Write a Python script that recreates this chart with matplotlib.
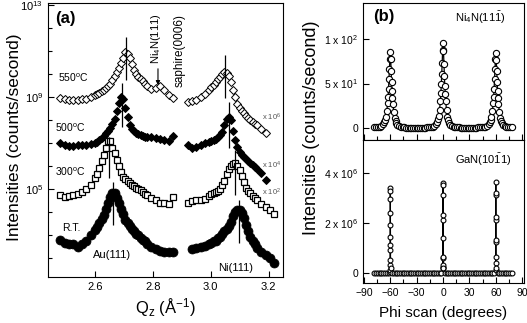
import numpy as np
import matplotlib
matplotlib.use("Agg")
import matplotlib.pyplot as plt
from matplotlib.ticker import FixedLocator, MultipleLocator, NullFormatter

plt.rcParams['font.family'] = ['Liberation Sans', 'DejaVu Sans']
plt.rcParams['mathtext.default'] = 'regular'

# ---- panel (a): scans, log10 of intensity (already offset by x10^n) ----
qz_au = [2.480, 2.495, 2.510, 2.525, 2.540, 2.555, 2.570, 2.585, 2.600,
         2.6075, 2.615, 2.6225, 2.630, 2.6375, 2.645, 2.6525, 2.660, 2.6675, 2.675, 2.6825,
         2.690, 2.6975, 2.705, 2.7125, 2.720, 2.7275, 2.735, 2.7425, 2.750, 2.7575, 2.765,
         2.7725, 2.780,
         2.795, 2.810, 2.825, 2.840, 2.855, 2.870]
qz_ni = [2.920, 2.935, 2.950, 2.965, 2.980, 2.995,
         3.0025, 3.010, 3.0175, 3.025, 3.0325, 3.040, 3.0475, 3.055, 3.0625, 3.070, 3.0775,
         3.085, 3.0925, 3.100, 3.1075, 3.115, 3.1225, 3.130, 3.1375, 3.145, 3.1525, 3.160,
         3.175, 3.190, 3.205, 3.220]

rt_au = [2.78, 2.65, 2.61, 2.57, 2.48, 2.57, 2.74, 2.96, 3.22,
         3.35, 3.52, 3.70, 3.87, 4.13, 4.39, 4.65, 4.83, 4.83, 4.61, 4.39, 4.13, 3.91, 3.65,
         3.52, 3.39, 3.26, 3.17, 3.04, 2.96, 2.87, 2.78, 2.70, 2.61,
         2.48, 2.39, 2.30, 2.22, 2.22, 2.26]
rt_ni = [2.39, 2.43, 2.48, 2.52, 2.61,
         2.65, 2.70, 2.74, 2.83, 2.91, 3.04, 3.17, 3.26, 3.39, 3.57, 3.83, 4.00, 4.09, 4.09,
         3.96, 3.74, 3.43, 3.17, 2.91, 2.70, 2.57, 2.43,
         2.26, 2.09, 1.96, 1.78]
t300_au = [4.74, 4.65, 4.70, 4.74, 4.78, 4.87, 5.00, 5.17, 5.48,
           5.65, 5.91, 6.22, 6.48, 6.78, 7.09, 7.09, 6.78, 6.57, 6.26, 6.00, 5.74, 5.52, 5.43,
           5.35, 5.26, 5.17, 5.13, 5.04, 5.00, 4.96, 4.87, 4.78, 4.74,
           4.61, 4.52, 4.39, 4.39, 4.35, 4.65]
t300_ni = [4.39, 4.48, 4.52, 4.52, 4.57, 4.70,
           4.78, 4.83, 4.87, 4.91, 5.00, 5.17, 5.35, 5.65, 5.87, 6.00, 6.09, 6.13, 6.00, 5.83,
           5.57, 5.30, 5.04, 4.91, 4.83, 4.70, 4.61, 4.52,
           4.35, 4.22, 4.09, 3.91]
t500_au = [7.00, 6.91, 6.87, 6.87, 6.91, 6.91, 6.91, 6.96, 7.00,
           7.04, 7.13, 7.22, 7.30, 7.43, 7.52, 7.65, 7.83, 8.04, 8.39, 8.74, 9.00, 8.91, 8.52,
           8.13, 7.78, 7.61, 7.52, 7.43, 7.39, 7.35, 7.30, 7.26, 7.26,
           7.26, 7.22, 7.17, 7.13, 7.09, 7.30]
t500_ni = [6.91, 6.78, 6.83, 6.91, 7.00, 7.04,
           7.09, 7.13, 7.17, 7.26, 7.35, 7.48, 7.78, 8.04, 8.13, 8.00, 7.52, 7.13, 6.83, 6.61,
           6.48, 6.39, 6.30, 6.22, 6.13, 6.04, 5.96, 5.87,
           5.70, 5.39]
t550_au = [8.96, 8.91, 8.87, 8.87, 8.87, 8.91, 8.91, 9.00, 9.09,
           9.13, 9.17, 9.26, 9.30, 9.39, 9.48, 9.57, 9.74, 9.91, 10.09, 10.26, 10.48, 10.70, 10.96,
           10.87, 10.70, 10.43, 10.17, 10.00, 9.87, 9.78, 9.70, 9.57, 9.48,
           9.35, 9.39, 9.48, 9.30, 9.09, 8.96]
t550_ni = [8.78, 8.83, 8.87, 9.00, 9.13, 9.30,
           9.43, 9.52, 9.65, 9.78, 9.87, 10.00, 10.09, 10.04, 9.91, 9.65, 9.30, 9.00, 8.70, 8.52,
           8.39, 8.30, 8.17, 8.09, 8.00, 7.91, 7.83, 7.78,
           7.61, 7.43]

# peak position markers (qz, log10 low, log10 high)
peak_qz = [2.708, 3.049, 2.694, 3.063, 2.648, 3.083, 2.663, 3.098]
peak_lo = [9.74, 8.96, 7.70, 6.78, 5.48, 4.74, 3.43, 2.65]
peak_hi = [11.61, 10.83, 9.61, 8.78, 7.26, 6.70, 5.30, 4.52]

# ---- panel (b): phi scans ----
phi_ni4n = [-78, -76, -74, -72, -70, -68, -67, -66, -65, -64, -63, -62.5, -62, -61.5, -61, -60.5,
            -60, -59.5, -59, -58.5, -58, -57.5, -57, -56, -55, -54, -53, -52, -50, -48, -46, -44,
            -42, -40, -38, -36, -34, -32, -30, -28, -26, -24, -22, -20, -18, -16, -14, -12, -10,
            -8, -7, -6, -5, -4, -3, -2.5, -2, -1.5, -1, -0.5, 0, 0.5, 1, 1.5, 2, 2.5, 3, 4, 5, 6,
            7, 8, 10, 12, 14, 16, 18, 20, 22, 24, 26, 28, 30, 32, 34, 36, 38, 40, 42, 44, 46, 48,
            50, 52, 53, 54, 55, 56, 57, 57.5, 58, 58.5, 59, 59.5, 60, 60.5, 61, 61.5, 62, 62.5, 63,
            64, 65, 66, 67, 68, 70, 72, 74, 76, 78]
int_ni4n = [1, 1, 1.5, 2, 3, 5, 7, 9, 13, 19, 28, 35, 44, 55, 66, 78,
            85, 77, 64, 52, 42, 34, 27, 18, 12, 8, 6, 4, 3, 2, 1, 1,
            0.5, 0.5, 0.5, 0.5, 0.5, 0.5, 0.5, 0.5, 0.5, 0.5, 0.5, 0.5, 1, 1, 1.5, 2, 3,
            5, 7, 10, 14, 21, 31, 39, 49, 61, 73, 87, 95, 86, 72, 59, 47, 38, 30, 20, 13, 9,
            6, 4, 3, 2, 1.5, 1, 1, 0.5, 0.5, 0.5, 0.5, 0.5, 0.5, 0.5, 0.5, 0.5, 0.5, 1, 1, 1.5, 2, 2,
            3, 5, 7, 9, 13, 19, 28, 35, 44, 55, 66, 77, 84, 76, 64, 52, 42, 34, 27,
            18, 12, 8, 6, 4, 3, 2, 1.5, 1, 1]

# GaN intensities in units of 1e6 counts/second
phi_gan = [-78, -76, -74, -72, -70, -68, -66, -64, -62,
           -60.3, -60.25, -60.2, -60.15, -60.1, -60.05, -60.0, -59.95, -59.9, -59.85, -59.8,
           -59.75, -59.7, -58, -56, -54, -52, -50, -48, -46, -44, -42, -40, -38, -36, -34, -32,
           -30, -28, -26, -24, -22, -20, -18, -16, -14, -12, -10, -8, -6, -4, -2,
           -0.3, -0.25, -0.2, -0.15, -0.1, -0.05, 0.0, 0.05, 0.1, 0.15, 0.2, 0.25,
           2, 4, 6, 8, 10, 12, 14, 16, 18, 20, 22, 24, 26, 28, 30, 32, 34, 36, 38, 40, 42, 44,
           46, 48, 50, 52, 54, 56, 58,
           59.7, 59.75, 59.8, 59.85, 59.9, 59.95, 60.0, 60.05, 60.1, 60.15, 60.2,
           62, 64, 66, 68, 70, 72, 74, 76, 78]
int_gan = [0, 0, 0, 0, 0, 0, 0, 0, 0,
           0.05, 0.12, 0.32, 0.92, 1.44, 2.4, 3.4, 3.28, 2.96, 1.92, 1.12,
           0.52, 0.2, 0, 0, 0, 0, 0, 0, 0, 0, 0, 0, 0, 0, 0, 0,
           0, 0, 0, 0, 0, 0, 0, 0, 0, 0, 0, 0, 0, 0, 0,
           0.2, 0.24, 0.6, 1.4, 2.12, 3.12, 3.6, 3.52, 2.32, 0.64, 0.32, 0.2,
           0, 0, 0, 0, 0, 0, 0, 0, 0, 0, 0, 0, 0, 0, 0, 0, 0, 0, 0, 0, 0, 0,
           0, 0, 0, 0, 0, 0, 0,
           0.12, 0.4, 1.24, 2.12, 3.12, 3.64, 3.2, 2.24, 1.32, 0.64, 0.2,
           0, 0, 0, 0, 0, 0, 0, 0, 0]

fig = plt.figure(figsize=(5.27, 3.23), dpi=100)

# ================= panel (a) =================
ax = fig.add_axes([48/527, 46/323, 235/527, 274/323])
series = [
    (t550_au, t550_ni, slice(0, 30), dict(marker='D', ms=4.5, mfc='white', mec='black', mew=0.7)),
    (t500_au, t500_ni, slice(0, 30), dict(marker='D', ms=4.5, mfc='black', mec='black', mew=0.7)),
    (t300_au, t300_ni, slice(0, 32), dict(marker='s', ms=5, mfc='white', mec='black', mew=0.9)),
    (rt_au, rt_ni, slice(1, 32), dict(marker='o', ms=6.5, mfc='black', mec='black', mew=0.5)),
]
for au, ni, sl, st in series:
    ax.plot(qz_au, 10 ** np.array(au), ls='none', **st)
    ax.plot(qz_ni[sl], 10 ** np.array(ni), ls='none', **st)

ax.vlines(peak_qz, 10 ** np.array(peak_lo), 10 ** np.array(peak_hi), color='black', lw=0.9)

ax.set_yscale('log')
ax.set_ylim(10 ** 1.15, 10 ** 13.1)
ax.set_xlim(2.437, 3.25)
ax.yaxis.set_major_locator(FixedLocator([1e5, 1e9, 1e13]))
ax.yaxis.set_minor_locator(FixedLocator([10.0 ** k for k in range(2, 14)]))
ax.yaxis.set_minor_formatter(NullFormatter())
ax.set_yticklabels(['$10^{5}$', '$10^{9}$', '$10^{13}$'])
ax.set_xticks([2.6, 2.8, 3.0, 3.2])
ax.set_xticklabels(['2.6', '2.8', '3.0', '3.2'])
ax.tick_params(which='both', direction='in', labelsize=8, width=0.8)
ax.tick_params(which='major', length=4)
ax.tick_params(which='minor', length=3)
ax.set_xlabel('Q$_z$ (Å$^{-1}$)', fontsize=12, labelpad=3)
fig.text(15/527, (323 - 137)/323, 'Intensities (counts/second)', fontsize=12.5,
         rotation=90, ha='center', va='center')

tx = ax.transAxes
ax.text(0.03, 0.945, '(a)', transform=tx, fontsize=12, fontweight='bold', va='center')
ax.text(0.043, 0.726, '550$^o$C', transform=tx, fontsize=7.5, va='center')
ax.text(0.03, 0.544, '500$^o$C', transform=tx, fontsize=7.5, va='center')
ax.text(0.03, 0.383, '300$^o$C', transform=tx, fontsize=7.5, va='center')
ax.text(0.06, 0.179, 'R.T.', transform=tx, fontsize=7.5, va='center')
ax.text(0.272, 0.08, 'Au(111)', transform=tx, fontsize=8, va='center', ha='center')
ax.text(0.80, 0.033, 'Ni(111)', transform=tx, fontsize=8, va='center', ha='center')
ax.text(0.911, 0.584, 'x 10$^6$', transform=tx, fontsize=5.5, va='center', color='#555555')
ax.text(0.911, 0.409, 'x 10$^4$', transform=tx, fontsize=5.5, va='center', color='#555555')
ax.text(0.911, 0.310, 'x 10$^2$', transform=tx, fontsize=5.5, va='center', color='#555555')
ax.text(0.46, 0.87, 'Ni$_4$N(111)', transform=tx, fontsize=8, rotation=90,
        va='center', ha='center')
ax.annotate('', xy=(0.468, 0.69), xytext=(0.468, 0.77), xycoords=tx, textcoords=tx,
            arrowprops=dict(arrowstyle='-|>', color='black', lw=0.8, mutation_scale=6))
ax.text(0.562, 0.828, 'saphire(0006)', transform=tx, fontsize=8.5, rotation=90,
        va='center', ha='center')

# ================= panel (b) =================
bx1 = fig.add_axes([363/527, 183/323, 161/527, 137/323])
bx2 = fig.add_axes([363/527, 40/323, 161/527, 143/323], sharex=bx1)

bx1.plot(phi_ni4n, int_ni4n, '-o', color='black', lw=0.9, ms=4.5, mfc='white', mec='black', mew=0.8)
bx2.plot(phi_gan, int_gan, '-o', color='black', lw=0.9, ms=3.5, mfc='white', mec='black', mew=0.8)

bx1.set_xlim(-91, 92)
bx1.set_ylim(-13, 140)
bx2.set_ylim(-0.4, 5.32)
bx1.set_yticks([0, 50, 100])
bx1.set_yticklabels(['0', '5 x 10$^{1}$', '1 x 10$^{2}$'])
bx2.set_yticks([0, 2, 4])
bx2.set_yticklabels(['0', '2 x 10$^{6}$', '4 x 10$^{6}$'])
bx2.set_xticks([-90, -60, -30, 0, 30, 60, 90])
bx2.xaxis.set_minor_locator(MultipleLocator(15))
for b in (bx1, bx2):
    b.tick_params(which='both', direction='in', labelsize=7.5, width=0.8)
    b.tick_params(which='major', length=4)
    b.tick_params(which='minor', length=3)
bx1.tick_params(labelbottom=False)
bx2.set_xlabel('Phi scan (degrees)', fontsize=11, labelpad=6)
fig.text(312/527, (323 - 128)/323, 'Intensities (counts/second)', fontsize=13, rotation=90,
         ha='center', va='center')

bx1.text(0.062, 0.898, '(b)', transform=bx1.transAxes, fontsize=12, fontweight='bold', va='center')
bx1.text(0.571, 0.89, 'Ni$_4$N(11$\\bar{1}$)', transform=bx1.transAxes, fontsize=8, va='center')
bx2.text(0.571, 0.86, 'GaN(10$\\bar{1}$1)', transform=bx2.transAxes, fontsize=8, va='center')

fig.savefig('out.png', dpi=100)
